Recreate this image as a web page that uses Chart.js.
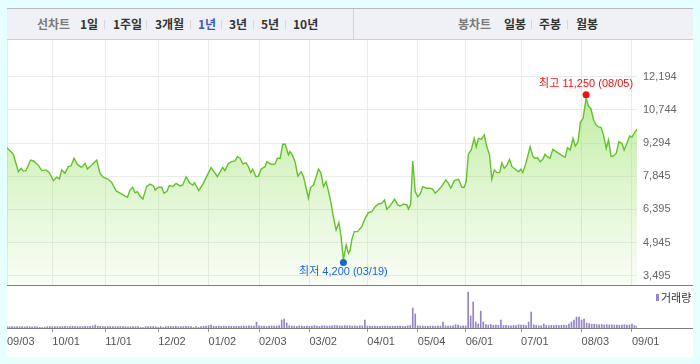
<!DOCTYPE html>
<html><head><meta charset="utf-8">
<script src="https://cdn.jsdelivr.net/npm/chart.js@4"></script>
<style>
html,body{margin:0;padding:0;background:#e6ffff;width:700px;height:364px;overflow:hidden;font-family:"Noto Sans CJK KR",sans-serif;}
#panel{position:absolute;left:7px;top:8px;width:686px;height:349px;background:#fff;}
#hdr{position:absolute;left:7px;top:8px;width:686px;height:30px;background:#f0f1f6;border-top:1px solid #b9b9b9;border-bottom:1px solid #cfcfcf;}
.t{position:absolute;top:17px;font-size:12px;font-weight:bold;color:#333;line-height:14px;white-space:nowrap;}
.g{color:#7a7a7a;}
.b{color:#3d5cb8;}
.sep{position:absolute;top:20px;width:1px;height:9px;background:#d8d8d8;}
.vsep{position:absolute;left:353px;top:9px;width:1px;height:30px;background:#d4d4d4;}
.hl{position:absolute;left:7px;width:686px;height:1px;background:#7d7d7d;}
#pc{position:absolute;left:7px;top:40px;}
#vc{position:absolute;left:7px;top:286px;}
#leg{position:absolute;left:656px;top:294px;width:3px;height:7px;background:#9683c8;}
#legt{position:absolute;left:661px;top:290px;font-size:11px;line-height:14px;color:#333;}
</style>
</head><body>
<div id="panel"></div>
<div id="hdr"></div>
<div class="vsep"></div>
<span class="t g" style="left:37px">선차트</span>
<span class="t" style="left:80px">1일</span><span class="sep" style="left:104px"></span>
<span class="t" style="left:113px">1주일</span><span class="sep" style="left:146px"></span>
<span class="t" style="left:155px">3개월</span><span class="sep" style="left:190px"></span>
<span class="t b" style="left:198px">1년</span><span class="sep" style="left:221px"></span>
<span class="t" style="left:229px">3년</span><span class="sep" style="left:253px"></span>
<span class="t" style="left:261px">5년</span><span class="sep" style="left:285px"></span>
<span class="t" style="left:293px">10년</span>
<span class="t g" style="left:458px">봉차트</span>
<span class="t" style="left:504px">일봉</span><span class="sep" style="left:531px"></span>
<span class="t" style="left:539px">주봉</span><span class="sep" style="left:567px"></span>
<span class="t" style="left:576px">월봉</span>
<canvas id="pc" width="686" height="245"></canvas>
<canvas id="vc" width="686" height="71"></canvas>
<div class="hl" style="top:285px"></div>
<div class="hl" style="top:328px"></div>
<div id="leg"></div><div id="legt">거래량</div>
<script>
// ---- data (trading-day position, price) ----
const dayIdx = [0,2.5,4.5,5.6,6.5,7.5,9.4,10.5,12.4,13.8,15.5,16.8,18.4,19.7,20.8,21.7,23.0,24.3,25.4,26.6,27.9,29.6,31.0,31.9,33.6,35.6,36.9,38.2,40.2,41.6,43.3,44.9,46.2,47.8,48.8,49.9,50.8,51.7,52.8,53.9,55.4,56.8,58.1,58.8,60.1,61.4,62.3,63.4,64.4,65.8,67.1,68.7,69.7,71.1,72.4,73.7,74.4,76.1,77.9,79.3,81.0,82.6,83.5,84.6,85.6,86.5,87.9,89.2,90.5,91.4,92.5,93.6,94.9,95.8,96.7,97.5,98.8,99.8,100.8,102.4,103.1,104.1,105.1,106.4,107.3,108.4,109.4,110.4,111.7,112.3,113.4,114.3,115.4,116.7,117.6,118.7,119.6,120.5,121.6,122.7,123.6,124.5,125.6,126.6,127.6,128.6,129.5,130.6,131.7,132.5,133.5,134.6,135.5,136.2,136.8,137.8,139.1,140.8,142.1,143.4,144.8,146.1,147.4,148.7,149.8,150.7,152.0,153.8,155.1,156.0,157.3,158.7,159.3,160.2,161.0,162.0,163.0,164.0,165.0,166.4,167.9,169.0,169.9,171.2,172.6,174.1,175.2,176.1,177.5,179.2,180.5,181.4,182.2,183.1,184.2,185.4,186.2,187.1,188.2,189.4,190.4,191.5,192.4,193.4,194.4,195.5,196.4,197.3,198.4,199.4,200.4,201.7,203.0,203.9,204.7,206.1,207.6,208.7,209.6,210.5,211.6,212.6,213.5,214.4,215.5,216.6,217.9,219.3,220.9,221.5,222.4,223.5,224.6,225.5,226.6,227.5,228.6,229.8,230.8,231.7,232.8,233.8,234.7,235.7,236.7,237.8,238.7,239.7,240.7,241.8,242.8,244.0,244.9,246.0,247.1,248.0,249.3,250.0];
const prices = [9090,8815,8040,8190,8070,8090,8550,8510,8330,8090,8120,8000,7650,7800,7730,8120,7970,8260,8290,8630,8360,8230,8410,8160,8330,8550,7970,7800,7710,7560,7200,7100,7020,6920,7240,7360,7120,7170,6980,6840,7390,7500,7420,7240,7360,7360,7100,7170,7430,7390,7530,7420,7460,7820,7560,7460,7560,7210,7530,7850,8220,7970,7820,8040,8230,8090,8410,8480,8510,8700,8630,8380,8430,8260,8000,8150,7820,7850,8150,8260,8480,8410,8360,8380,8630,8630,9240,9240,8770,8920,8730,8480,7850,8040,7850,7320,6880,7360,7460,7820,8150,8000,7390,7600,7170,6660,6070,5490,5810,5270,4200,4840,4470,4620,5060,5420,5420,5640,6000,6250,6290,6510,6630,6660,6800,6400,6540,6840,6590,6540,6630,6590,6410,6630,8510,7170,6950,7070,7390,7320,7320,7270,7100,7240,7420,7680,7530,7320,7650,7710,7360,7360,7600,8820,8990,9500,9130,9500,9460,9650,9130,8770,7710,8120,8000,8000,8430,8190,8330,8580,8260,8150,8040,8150,8000,8480,9130,8700,8630,8650,8480,8580,8800,8700,8630,9020,8920,8820,8700,8670,9090,8990,9500,9160,9350,10180,10380,11250,10900,10800,10300,10080,10000,9980,9650,9060,9430,8700,8730,8850,9350,9280,8990,9280,9600,9550,9790,9900];
// volume per trading day (thousand shares)
const volumes = [150,120,130,110,140,120,130,110,150,130,
120,140,110,60,50,60,130,140,120,130,
140,130,150,160,140,130,170,150,140,130,
150,160,140,170,200,300,180,160,150,140,
130,150,140,130,140,150,130,140,120,130,
140,130,150,60,50,140,130,150,140,130,
60,140,50,130,160,150,140,170,130,150,
140,160,150,130,50,140,60,150,170,200,
230,300,180,160,200,170,190,160,180,170,
160,180,170,190,200,180,210,190,200,600,
220,200,180,160,190,210,200,190,250,800,
900,500,230,200,180,160,210,190,170,200,
180,200,250,190,170,220,230,180,200,220,
250,230,220,200,240,210,230,200,220,190,
230,210,800,200,190,170,180,160,170,190,
180,200,170,180,160,190,200,180,170,220,
250,2000,1400,220,200,190,180,170,190,200,
180,200,190,600,210,190,200,220,330,280,
190,210,200,3600,1200,2600,600,400,1700,600,
350,300,340,280,300,260,800,240,260,230,
220,260,240,330,280,300,250,600,1600,320,
260,240,230,400,250,220,260,240,270,250,
280,300,260,400,600,800,1100,1100,800,900,
500,450,380,360,340,320,350,300,330,310,
320,300,290,280,300,330,280,310,400,260,
200];
const tickDays = [0,18,39,60,80,100,120,143,163,182,204,228,248];
const tickLabels = ['09/03','10/01','11/01','12/02','01/02','02/03','03/02','04/01','05/04','06/01','07/01','08/03','09/01'];
const yTicks = [3495,4945,6395,7845,9294,10744,12194];
const lowDate = '03/19', highDate = '08/05';

Chart.defaults.font.family = '"Liberation Sans", Arial, sans-serif';
Chart.defaults.animation = false;
const fmt = v => v.toLocaleString('en-US');
const GRID = '#ebebeb';
const PAD_R = 56;

const hiLo = {
  id:'hiLo',
  afterDatasetsDraw(chart){
    const {ctx, scales:{x,y}} = chart;
    let lo=0, hi=0;
    prices.forEach((p,i)=>{ if(p<prices[lo]) lo=i; if(p>prices[hi]) hi=i; });
    const items = [
      {i:lo, col:'#1a66d6', txt:'최저 '+fmt(prices[lo])+' ('+lowDate+')', dy:3, ty:12},
      {i:hi, col:'#f01010', txt:'최고 '+fmt(prices[hi])+' ('+highDate+')', dy:-3.5, ty:-14}
    ];
    ctx.save();
    ctx.font = '11px "Liberation Sans", "Noto Sans CJK KR", sans-serif';
    ctx.textAlign = 'center'; ctx.textBaseline = 'middle';
    items.forEach(m=>{
      const px = x.getPixelForValue(dayIdx[m.i]);
      const py = y.getPixelForValue(prices[m.i]);
      ctx.fillStyle = m.col;
      ctx.beginPath(); ctx.arc(px, py+m.dy, 3.5, 0, Math.PI*2); ctx.fill();
      ctx.fillText(m.txt, px, py+m.ty);
    });
    ctx.restore();
  }
};

new Chart(document.getElementById('pc'), {
  type:'line',
  data:{datasets:[{
    data: dayIdx.map((d,i)=>({x:d, y:prices[i]})),
    borderColor:'#62c22a', borderWidth:1.4, pointRadius:0, tension:0,
    fill:'start',
    backgroundColor: (c)=>{
      const a = c.chart.chartArea; if(!a) return 'rgba(140,220,80,0.4)';
      const g = c.chart.ctx.createLinearGradient(0,a.top,0,a.bottom);
      g.addColorStop(0,'rgba(140,222,80,0.72)');
      g.addColorStop(1,'rgba(170,230,130,0.08)');
      return g;
    }
  }]},
  options:{
    responsive:false, devicePixelRatio:1,
    layout:{padding:0},
    plugins:{legend:{display:false}, tooltip:{enabled:false}},
    scales:{
      x:{type:'linear', min:0, max:250, bounds:'data',
        afterBuildTicks:s=>{ s.ticks = tickDays.map(v=>({value:v})); },
        afterFit:s=>{ s.height=0; s.paddingLeft=0; s.paddingRight=0; },
        ticks:{display:false},
        grid:{color:GRID, drawTicks:false}, border:{display:false}},
      y:{type:'linear', position:'right', min:3088.5, max:13798, bounds:'data',
        afterBuildTicks:s=>{ s.ticks = yTicks.map(v=>({value:v})); },
        afterFit:s=>{ s.width=PAD_R; s.paddingTop=0; s.paddingBottom=0; },
        ticks:{padding:6, color:'#666', font:{size:11}, callback:v=>fmt(v)},
        grid:{color:GRID, drawTicks:false}, border:{display:false}}
    }
  },
  plugins:[hiLo]
});

new Chart(document.getElementById('vc'), {
  type:'bar',
  data:{datasets:[{
    data: volumes.map((v,i)=>({x:i, y:v})),
    backgroundColor:'#9683c8', barThickness:1, grouped:false, borderWidth:0
  }]},
  options:{
    responsive:false, devicePixelRatio:1,
    layout:{padding:{right:PAD_R, left:0, top:0, bottom:0}},
    plugins:{legend:{display:false}, tooltip:{enabled:false}},
    scales:{
      x:{type:'linear', min:0, max:250, offset:false, bounds:'data',
        afterBuildTicks:s=>{ s.ticks = tickDays.map(v=>({value:v})); },
        afterFit:s=>{ s.height=29; s.paddingLeft=0; s.paddingRight=0; },
        ticks:{align:'start', padding:3, color:'#555', font:{size:11}, maxRotation:0, autoSkip:false,
          callback:(v,i)=>tickLabels[i]},
        grid:{offset:false, drawOnChartArea:false, drawTicks:true, tickLength:4,
          tickColor:c=> c.index===0 ? 'rgba(0,0,0,0)' : '#999'},
        border:{display:false}},
      y:{display:false, min:0, max:4200}
    }
  }
});
</script>
</body></html>
